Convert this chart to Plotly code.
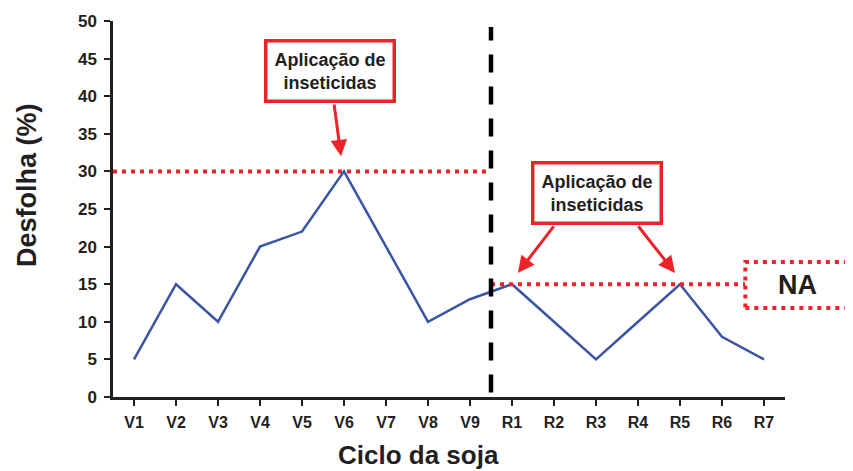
import plotly.graph_objects as go

stages = ["V1", "V2", "V3", "V4", "V5", "V6", "V7", "V8", "V9",
          "R1", "R2", "R3", "R4", "R5", "R6", "R7"]
desfolha = [5, 15, 10, 20, 22, 30, 20, 10, 13, 15, 10, 5, 10, 15, 8, 5]
y_ticks = [0, 5, 10, 15, 20, 25, 30, 35, 40, 45, 50]
limiar_vegetativo = 30
limiar_reprodutivo = 15

RED = "#EE2229"
BLUE = "#3A54A4"
DARK = "#231F20"
FONT = "Liberation Sans, Arial, sans-serif"

fig = go.Figure()
fig.add_trace(go.Scatter(x=list(range(len(stages))), y=desfolha, mode="lines",
                         line=dict(color=BLUE, width=2.5), showlegend=False,
                         hoverinfo="skip"))

n = len(stages)
split = 8.5  # boundary between V9 and R1

shapes = [
    dict(type="line", xref="x", yref="y", x0=-0.5, x1=split,
         y0=limiar_vegetativo, y1=limiar_vegetativo,
         line=dict(color=RED, width=4, dash="4px,5px"), layer="above"),
    dict(type="line", xref="x", yref="y", x0=split, x1=14.55,
         y0=limiar_reprodutivo, y1=limiar_reprodutivo,
         line=dict(color=RED, width=4, dash="4px,5px"), layer="above"),
    dict(type="line", xref="x", yref="y", x0=split, x1=split, y0=0.6, y1=49.2,
         line=dict(color="black", width=4.5, dash="18px,14px"), layer="above"),
    dict(type="rect", xref="paper", yref="paper", x0=0.941, x1=1.097,
         y0=0.237, y1=0.359, line=dict(color=RED, width=4, dash="4px,5px"),
         fillcolor="white", layer="above"),
]

box_font = dict(family=FONT, size=18, color=DARK)
title_font = dict(family=FONT, size=26, color=DARK)
arrow_style = dict(xref="x", yref="y", axref="x", ayref="y", text="", showarrow=True,
                   arrowhead=2, arrowsize=1.1, arrowwidth=3, arrowcolor=RED,
                   standoff=0, startstandoff=0)
annotations = [
    dict(xref="x", yref="y", x=4.67, y=43.3, text="<b>Aplicação de<br>inseticidas</b>",
         showarrow=False, font=box_font, bgcolor="white", bordercolor=RED,
         borderwidth=3.5, borderpad=7, xanchor="center", yanchor="middle"),
    dict(xref="x", yref="y", x=11.02, y=27.1, text="<b>Aplicação de<br>inseticidas</b>",
         showarrow=False, font=box_font, bgcolor="white", bordercolor=RED,
         borderwidth=3.5, borderpad=7, xanchor="center", yanchor="middle"),
    dict(x=4.93, y=32.0, ax=4.76, ay=39.1, **arrow_style),
    dict(x=9.14, y=16.5, ax=10.02, ay=22.9, **arrow_style),
    dict(x=12.88, y=16.5, ax=11.98, ay=22.9, **arrow_style),
    dict(xref="paper", yref="paper", x=1.0185, y=0.298, text="<b>NA</b>",
         showarrow=False, font=dict(family=FONT, size=27, color=DARK),
         xanchor="center", yanchor="middle"),
    # axis titles
    dict(xref="paper", yref="paper", x=0.454, y=-0.155, text="<b>Ciclo da soja</b>",
         showarrow=False, font=title_font, xanchor="center", yanchor="middle"),
    dict(xref="paper", yref="paper", x=-0.128, y=0.564, text="<b>Desfolha (%)</b>",
         showarrow=False, font=dict(family=FONT, size=27, color=DARK), textangle=-90,
         xanchor="center", yanchor="middle"),
]

# page body has an 8px default margin: shrink the figure so the plot area lands in place
fig.update_layout(
    width=845, height=463,
    margin=dict(l=105, r=68, t=13, b=74, autoexpand=False),
    paper_bgcolor="white", plot_bgcolor="white",
    shapes=shapes, annotations=annotations,
    showlegend=False,
    font=dict(family=FONT, color=DARK),
    xaxis=dict(
        range=[-0.5, n - 0.5], automargin=False,
        tickmode="array", tickvals=list(range(n)), ticktext=[f"<b>{s}</b>" for s in stages],
        showgrid=False, zeroline=False,
        showline=True, linecolor=DARK, linewidth=2.5,
        ticks="outside", ticklen=6, tickwidth=2, tickcolor=DARK,
        ticklabelstandoff=3,
        tickfont=dict(family=FONT, size=16, color=DARK),
        fixedrange=True,
    ),
    yaxis=dict(
        range=[0, 50], automargin=False,
        tickmode="array", tickvals=y_ticks, ticktext=[f"<b>{v}</b>" for v in y_ticks],
        showgrid=False, zeroline=False,
        showline=True, linecolor=DARK, linewidth=2.5,
        ticks="outside", ticklen=6, tickwidth=2, tickcolor=DARK,
        ticklabelstandoff=4,
        tickfont=dict(family=FONT, size=17, color=DARK),
        fixedrange=True,
    ),
)

fig.write_html("out.html")
